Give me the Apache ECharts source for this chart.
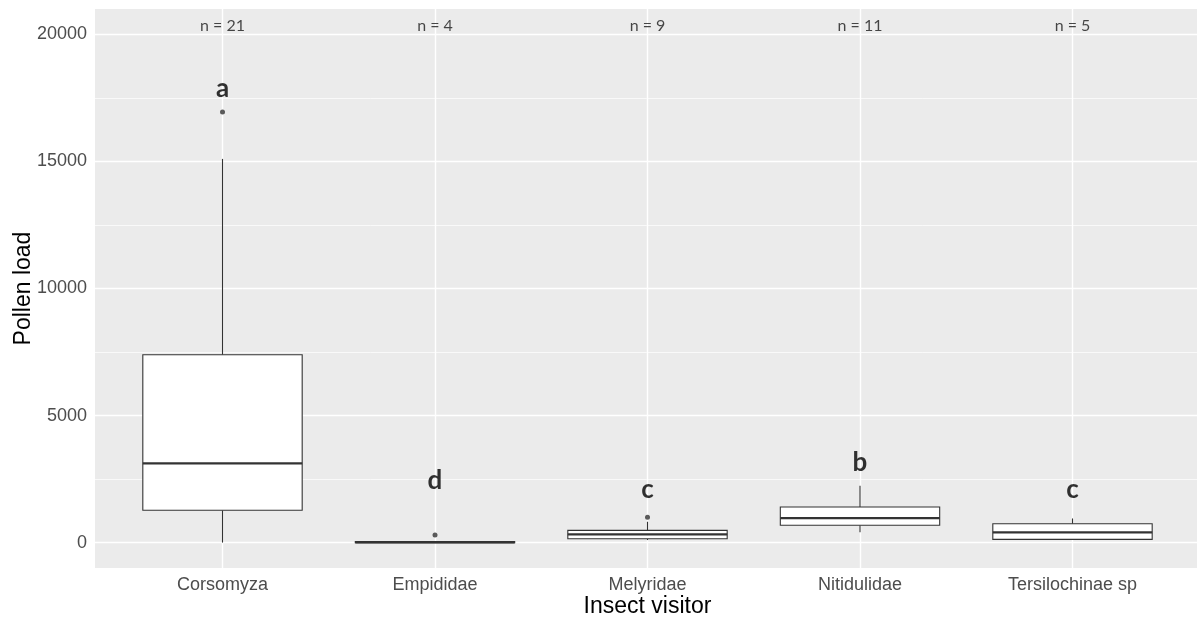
<!DOCTYPE html>
<html>
<head>
<meta charset="utf-8">
<script src="https://cdn.jsdelivr.net/npm/echarts@6/dist/echarts.min.js"></script>
<style>
  html, body { margin: 0; padding: 0; background: #fff; }
  #chart { width: 1197px; height: 619px; }
</style>
</head>
<body>
<div id="chart"></div>
<script>
// Insect visitor groups
const categories = ['Corsomyza', 'Empididae', 'Melyridae', 'Nitidulidae', 'Tersilochinae sp'];
// Five-number summaries per group: [lower whisker, Q1, median, Q3, upper whisker]
const boxStats = [
  [0, 1270, 3120, 7390, 15100],
  [0, 0, 10, 45, 45],
  [100, 150, 320, 480, 820],
  [410, 680, 965, 1400, 2240],
  [120, 125, 400, 740, 950]
];
// Outlying observations: [group index, pollen load]
const outliers = [[0, 16950], [1, 300], [2, 1000]];
// Sample sizes per group
const sampleSizes = [21, 4, 9, 11, 5];
// Significance letters and the height they sit at
const sigLetters = ['a', 'd', 'c', 'b', 'c'];
const sigHeights = [17850, 2440, 2070, 3130, 2100];
const nLabelHeight = 20320;
// Axis ticks
const yTicks = [0, 5000, 10000, 15000, 20000];
const yMinor = [2500, 7500, 12500, 17500];

const boxData = boxStats.map((s, i) => [i].concat(s));
const BOX_WIDTH = 0.75;

function renderBox(params, api) {
  const x = api.value(0);
  const lo = api.value(1), q1 = api.value(2), med = api.value(3), q3 = api.value(4), hi = api.value(5);
  const half = api.size([BOX_WIDTH, 0])[0] / 2;
  const pLo = api.coord([x, lo]);
  const pQ1 = api.coord([x, q1]);
  const pMed = api.coord([x, med]);
  const pQ3 = api.coord([x, q3]);
  const pHi = api.coord([x, hi]);
  const stroke = '#333333';
  return {
    type: 'group',
    children: [
      { type: 'line', shape: { x1: pHi[0], y1: pHi[1], x2: pQ3[0], y2: pQ3[1] }, style: { stroke, lineWidth: 1.1 } },
      { type: 'line', shape: { x1: pQ1[0], y1: pQ1[1], x2: pLo[0], y2: pLo[1] }, style: { stroke, lineWidth: 1.1 } },
      { type: 'rect', shape: { x: pQ3[0] - half, y: pQ3[1], width: half * 2, height: Math.max(pQ1[1] - pQ3[1], 0.5) },
        style: { fill: '#ffffff', stroke, lineWidth: 1.1 } },
      { type: 'line', shape: { x1: pMed[0] - half, y1: pMed[1], x2: pMed[0] + half, y2: pMed[1] }, style: { stroke, lineWidth: 2.2 } }
    ]
  };
}

const gridLines = []
  .concat(yTicks.map(v => ({ yAxis: v, lineStyle: { width: 1.4 } })))
  .concat(yMinor.map(v => ({ yAxis: v, lineStyle: { width: 0.7 } })))
  .concat(categories.map((c, i) => ({ xAxis: i, lineStyle: { width: 1.4 } })));

const chart = echarts.init(document.getElementById('chart'), null, { renderer: 'canvas' });
chart.setOption({
  animation: false,
  backgroundColor: '#ffffff',
  grid: {
    left: 95, right: -3, top: 9, bottom: 51,
    containLabel: false,
    outerBoundsMode: 'none',
    show: true, backgroundColor: '#EBEBEB', borderWidth: 0
  },
  xAxis: {
    type: 'value',
    min: -0.6, max: 4.6,
    name: 'Insect visitor',
    nameLocation: 'middle',
    nameGap: 27,
    nameMoveOverlap: false,
    nameTextStyle: { fontFamily: 'Liberation Sans', fontSize: 23, color: '#000' },
    axisLine: { show: false },
    splitLine: { show: false },
    axisTick: { show: true, length: 4, customValues: [0, 1, 2, 3, 4], lineStyle: { color: '#333', width: 1 } },
    axisLabel: {
      customValues: [0, 1, 2, 3, 4],
      formatter: v => categories[Math.round(v)],
      fontFamily: 'Liberation Sans', fontSize: 18, color: '#4D4D4D', margin: 8
    }
  },
  yAxis: {
    type: 'value',
    min: -1000, max: 21000,
    name: 'Pollen load',
    nameLocation: 'middle',
    nameRotate: 90,
    nameGap: 60,
    nameMoveOverlap: false,
    nameTextStyle: { fontFamily: 'Liberation Sans', fontSize: 23, color: '#000' },
    axisLine: { show: false },
    splitLine: { show: false },
    axisTick: { show: true, length: 4, customValues: yTicks, lineStyle: { color: '#333', width: 1 } },
    axisLabel: {
      customValues: yTicks,
      formatter: v => String(v),
      fontFamily: 'Liberation Sans', fontSize: 18, color: '#4D4D4D', margin: 8
    }
  },
  series: [
    {
      type: 'line',
      data: [],
      silent: true,
      z: 1,
      markLine: {
        silent: true,
        z: 1,
        symbol: ['none', 'none'],
        label: { show: false },
        lineStyle: { color: '#ffffff', type: 'solid' },
        data: gridLines
      }
    },
    {
      type: 'custom',
      z: 3,
      silent: true,
      renderItem: renderBox,
      encode: { x: 0, y: [1, 2, 3, 4, 5] },
      data: boxData
    },
    {
      type: 'scatter',
      z: 4,
      silent: true,
      symbol: 'circle',
      symbolSize: 5,
      itemStyle: { color: '#333333' },
      data: outliers
    },
    {
      type: 'scatter',
      z: 5,
      silent: true,
      symbolSize: 0,
      label: {
        show: true, position: 'inside',
        formatter: p => p.name,
        fontFamily: 'Lato', fontWeight: 'bold', fontSize: 26, color: '#000'
      },
      data: sigLetters.map((l, i) => ({ name: l, value: [i, sigHeights[i]] }))
    },
    {
      type: 'scatter',
      z: 5,
      silent: true,
      symbolSize: 0,
      label: {
        show: true, position: 'inside',
        formatter: p => 'n = ' + p.name,
        fontFamily: 'Lato', fontSize: 16, color: '#1a1a1a'
      },
      data: sampleSizes.map((n, i) => ({ name: String(n), value: [i, nLabelHeight] }))
    }
  ]
});
</script>
</body>
</html>
